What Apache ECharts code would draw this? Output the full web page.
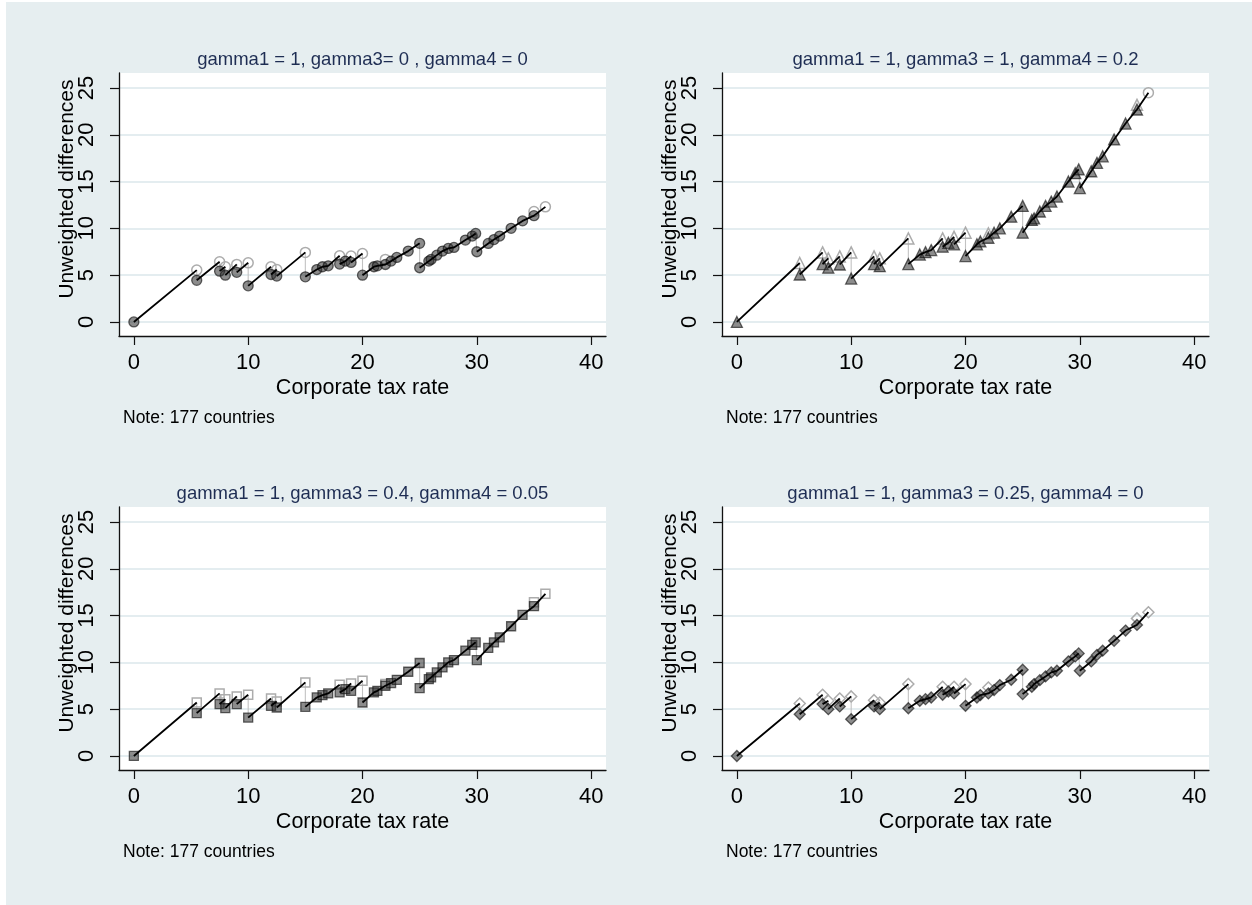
<!DOCTYPE html>
<html>
<head>
<meta charset="utf-8">
<title>Unweighted differences by corporate tax rate</title>
<script src="https://cdn.jsdelivr.net/npm/echarts@6/dist/echarts.min.js"></script>
<style>
  html, body { margin: 0; padding: 0; background: #fff; }
  #chart {
    width: 1252px;
    height: 905px;
    background: #e6eef0;
    box-shadow: inset 6px 2px 0 #fff;
  }
</style>
</head>
<body>
<div id="chart"></div>
<script>
// corporate tax rate of each plotted country (dark markers)
const taxRate = [0, 5.5, 7.5, 8, 9, 10, 12, 12.5, 15, 16, 16.5, 17, 18, 18.5, 19, 20,
  21, 21.3, 22, 22.5, 23, 24, 25, 25, 25.8, 26, 26.5, 27, 27.5, 28, 29, 29.6, 29.9,
  30, 31, 31.5, 32, 33, 34, 35]

// unweighted differences, one array per parameter set
const diffA = [0, 4.45, 5.43, 5.0, 5.3, 3.86, 5.07, 4.9, 4.82, 5.6, 5.9, 6.0, 6.18, 6.5, 6.36, 5.0,
  5.9, 6.0, 6.14, 6.5, 6.9, 7.57, 8.4, 5.79, 6.5, 6.68, 7.14, 7.57, 7.86, 7.96, 8.75, 9.18, 9.46,
  7.5, 8.39, 8.8, 9.18, 10.0, 10.8, 11.36]
const diffB = [0, 5.07, 6.18, 5.8, 6.14, 4.64, 6.18, 5.96, 6.18, 7.2, 7.46, 7.68, 8.04, 8.46, 8.3, 7.04,
  8.3, 8.6, 9.0, 9.54, 10.0, 11.25, 12.4, 9.54, 10.9, 11.07, 11.8, 12.4, 12.86, 13.4, 15.0, 15.9, 16.3,
  14.3, 16.1, 17.0, 17.7, 19.5, 21.2, 22.7]
const diffC = [0, 4.57, 5.54, 5.11, 5.54, 4.1, 5.36, 5.18, 5.25, 6.25, 6.5, 6.68, 6.79, 7.14, 6.96, 5.71,
  6.79, 6.96, 7.5, 7.79, 8.14, 9.0, 9.93, 7.25, 8.21, 8.39, 8.93, 9.46, 10.0, 10.25, 11.25, 11.86, 12.14,
  10.25, 11.54, 12.14, 12.68, 13.86, 15.07, 16.0]
const diffD = [0, 4.46, 5.54, 5.0, 5.29, 3.93, 5.29, 5.0, 5.1, 5.89, 6.07, 6.25, 6.54, 6.89, 6.68, 5.36,
  6.25, 6.5, 6.68, 7.04, 7.57, 8.14, 9.21, 6.61, 7.39, 7.68, 8.1, 8.5, 8.93, 9.1, 10.1, 10.64, 10.96,
  9.1, 10.1, 10.8, 11.25, 12.3, 13.4, 14.0]

// hollow markers: value just below each threshold
const stepRate = [5.5, 7.5, 8, 9, 10, 12, 12.5, 15, 18, 19, 20, 22, 35, 36]
const stepA = [5.54, 6.43, 5.9, 6.15, 6.32, 5.9, 5.6, 7.43, 7.07, 7.04, 7.32, 6.68, 11.8, 12.3]
const stepB = [6.3, 7.43, 6.8, 7.0, 7.43, 7.0, 6.8, 8.93, 8.93, 9.1, 9.54, 9.46, 23.2, 24.5]
const stepC = [5.71, 6.68, 6.07, 6.36, 6.54, 6.14, 5.82, 7.86, 7.6, 7.75, 8.04, 7.68, 16.43, 17.32]
const stepD = [5.6, 6.54, 5.9, 6.14, 6.36, 5.96, 5.71, 7.68, 7.39, 7.39, 7.68, 7.32, 14.7, 15.36]
// thresholds where the connecting line ends at the hollow marker
const lineEnds = [5.5, 7.5, 8, 9, 10, 12, 12.5, 15, 18, 19, 20, 36]

const xTicks = [0, 10, 20, 30, 40]
const yTicks = [0, 5, 10, 15, 20, 25]

const FONT = '"Liberation Sans", Arial, Helvetica, sans-serif'

const panels = [
  { title: 'gamma1 = 1, gamma3= 0 , gamma4 = 0', diff: diffA, step: stepA, symbol: 'circle', size: 10, left: 119, top: 73 },
  { title: 'gamma1 = 1, gamma3 = 1, gamma4 = 0.2', diff: diffB, step: stepB, symbol: 'triangle', size: 11, endSymbol: 'circle', left: 722, top: 73 },
  { title: 'gamma1 = 1, gamma3 = 0.4, gamma4 = 0.05', diff: diffC, step: stepC, symbol: 'rect', size: 9, left: 119, top: 507 },
  { title: 'gamma1 = 1, gamma3 = 0.25, gamma4 = 0', diff: diffD, step: stepD, symbol: 'diamond', size: 11, left: 722, top: 507 },
]
const plotW = 487
const plotH = 263

// sawtooth line: each run ends at the hollow marker, then restarts lower;
// the drops themselves get a faint vertical connector
function buildLine(diff, step) {
  const pts = []
  taxRate.forEach((x, i) => pts.push({ x: x, y: diff[i], k: 1 }))
  stepRate.forEach((x, i) => {
    if (lineEnds.indexOf(x) >= 0) pts.push({ x: x, y: step[i], k: 0 })
  })
  pts.sort((a, b) => a.x - b.x || a.k - b.k)
  const line = []
  const drops = []
  let prev = null
  pts.forEach(p => {
    if (prev && p.y < prev.y - 0.05) {
      line.push([p.x, null])
      drops.push([prev.x, prev.y], [p.x, p.y], [p.x, null])
    }
    line.push([p.x, p.y])
    prev = p
  })
  return { line: line, drops: drops }
}

const grid = []
const xAxis = []
const yAxis = []
const series = []
const graphic = []

panels.forEach((p, i) => {
  grid.push({
    left: p.left, top: p.top, width: plotW, height: plotH,
    show: true, backgroundColor: '#fff', borderWidth: 0,
  })
  xAxis.push({
    gridIndex: i, type: 'value', min: -1.3, max: 41.3,
    axisLine: { show: true, onZero: false, lineStyle: { color: '#111', width: 1.3 } },
    axisTick: { show: true, customValues: xTicks, length: 9, lineStyle: { color: '#111', width: 1.2 } },
    axisLabel: { customValues: xTicks, fontSize: 22, color: '#000', margin: 16, fontFamily: FONT },
    splitLine: { show: false },
  })
  yAxis.push({
    gridIndex: i, type: 'value', min: -1.5, max: 26.6,
    axisLine: { show: true, onZero: false, lineStyle: { color: '#111', width: 1.3 } },
    axisTick: { show: true, customValues: yTicks, length: 9, lineStyle: { color: '#111', width: 1.2 } },
    axisLabel: { customValues: yTicks, rotate: 90, fontSize: 22, color: '#000', margin: 21, fontFamily: FONT },
    splitLine: { show: true, lineStyle: { color: '#e4edf0', width: 2 } },
  })

  const path = buildLine(p.diff, p.step)
  series.push({
    type: 'line', xAxisIndex: i, yAxisIndex: i, z: 1,
    showSymbol: false, symbol: 'none', connectNulls: false,
    lineStyle: { color: '#c2c2c2', width: 1.1 },
    data: path.drops,
  })
  series.push({
    type: 'scatter', xAxisIndex: i, yAxisIndex: i, z: 2,
    symbol: p.symbol, symbolSize: p.size,
    itemStyle: { color: 'rgba(0,0,0,0)', borderColor: '#acacac', borderWidth: 1.5, opacity: 1 },
    data: stepRate.map((x, k) => {
      if (p.endSymbol && k === stepRate.length - 1) {
        return { value: [x, p.step[k]], symbol: p.endSymbol, symbolSize: 10 }
      }
      return [x, p.step[k]]
    }),
  })
  series.push({
    type: 'scatter', xAxisIndex: i, yAxisIndex: i, z: 3,
    symbol: p.symbol, symbolSize: p.size,
    itemStyle: { color: 'rgba(45,45,45,0.55)', borderColor: 'rgba(20,20,20,0.65)', borderWidth: 1.3, opacity: 1 },
    data: taxRate.map((x, k) => [x, p.diff[k]]),
  })
  series.push({
    type: 'line', xAxisIndex: i, yAxisIndex: i, z: 4,
    showSymbol: false, symbol: 'none', connectNulls: false,
    lineStyle: { color: '#000', width: 1.8 },
    data: path.line,
  })

  const cx = p.left + plotW / 2
  const base = p.top + plotH
  graphic.push({
    type: 'text', x: cx, y: p.top - 13,
    style: { text: p.title, font: '18.5px ' + FONT, fill: '#1e2d53', align: 'center', verticalAlign: 'middle' },
  })
  graphic.push({
    type: 'text', x: cx, y: base + 52,
    style: { text: 'Corporate tax rate', font: '21.5px ' + FONT, fill: '#000', align: 'center', verticalAlign: 'middle' },
  })
  graphic.push({
    type: 'text', x: p.left - 52, y: p.top + 116, rotation: Math.PI / 2,
    style: { text: 'Unweighted differences', font: '21px ' + FONT, fill: '#000', align: 'center', verticalAlign: 'middle' },
  })
  graphic.push({
    type: 'text', x: p.left + 4, y: base + 82,
    style: { text: 'Note: 177 countries', font: '17.5px ' + FONT, fill: '#000', align: 'left', verticalAlign: 'middle' },
  })
})

const chart = echarts.init(document.getElementById('chart'), null, { renderer: 'canvas' })
chart.setOption({
  backgroundColor: 'transparent',
  animation: false,
  textStyle: { fontFamily: FONT },
  grid: grid,
  xAxis: xAxis,
  yAxis: yAxis,
  series: series,
  graphic: graphic,
})
</script>
</body>
</html>
